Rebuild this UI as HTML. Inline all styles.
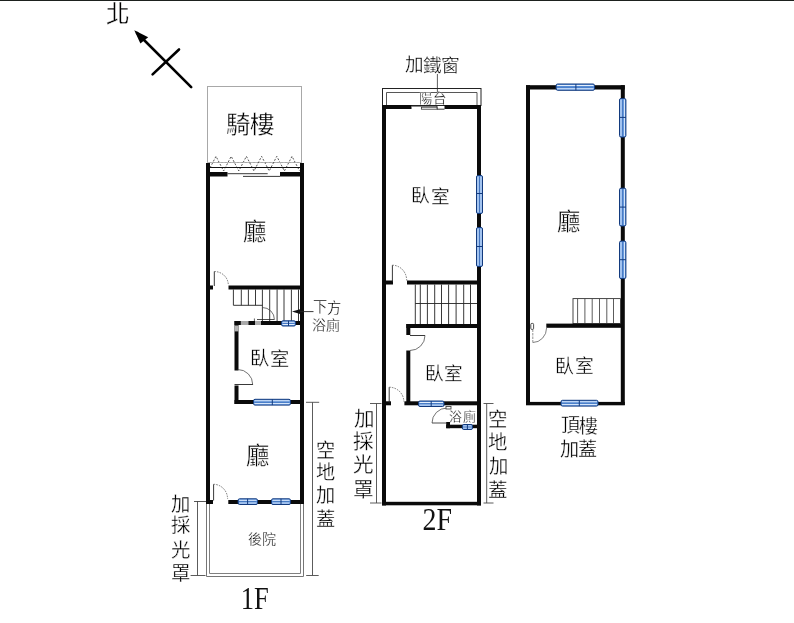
<!DOCTYPE html>
<html lang="zh-TW"><head><meta charset="utf-8"><title>Floor plan</title>
<style>
html,body{margin:0;padding:0;background:#fff;}
body{width:794px;height:623px;overflow:hidden;font-family:"Liberation Serif",serif;}
svg{display:block;}
svg text{font-family:"Liberation Serif",serif;}
svg text{filter:grayscale(1);}
</style></head><body>
<svg width="794" height="623" viewBox="0 0 794 623">
<rect width="794" height="623" fill="#fff"/>
<rect x="0" y="0" width="794" height="1" fill="#1d211e"/>
<line x1="137" y1="33" x2="191.2" y2="87.2" stroke="#000" stroke-width="2.6" stroke-linecap="round"/>
<polygon points="134.3,30.2 140.4,43.6 148.2,37.2" fill="#000"/>
<line x1="152.6" y1="74.4" x2="179" y2="49.5" stroke="#000" stroke-width="2.6" stroke-linecap="round"/>
<text x="106.33" y="22.31" font-size="23.72" fill="#000" stroke="#fff" stroke-width="0.3">北</text>
<rect x="207.5" y="86.5" width="94" height="76" fill="none" stroke="#a8a8a8" stroke-width="1"/>
<text x="225.61 249.98" y="132.78 132.66" font-size="24.43" fill="#000" stroke="#fff" stroke-width="0.3">騎樓</text>
<polyline points="208.4,171 216.0,156.3 223.6,171 231.2,156.3 238.8,171 246.4,156.3 254.0,171 261.6,156.3 269.2,171 276.8,156.3 284.4,171 292.0,156.3 299.6,171" fill="none" stroke="#444" stroke-width="0.9" stroke-dasharray="2,1.6"/>
<line x1="207" y1="162.5" x2="302" y2="162.5" stroke="#bbb" stroke-width="0.8" stroke-dasharray="2,2"/>
<line x1="210" y1="167.5" x2="300" y2="167.5" stroke="#111" stroke-width="1.2" />
<rect x="210" y="172" width="17.5" height="4.5" fill="#0a0a0a"/>
<rect x="280" y="172" width="20" height="4.5" fill="#0a0a0a"/>
<line x1="227.5" y1="173.7" x2="267.7" y2="173.7" stroke="#222" stroke-width="0.9" />
<line x1="243" y1="176.4" x2="280" y2="176.4" stroke="#222" stroke-width="0.9" />
<rect x="206" y="163" width="4" height="341" fill="#0a0a0a"/>
<rect x="300" y="163" width="4" height="341" fill="#0a0a0a"/>
<rect x="228.5" y="285.5" width="71.5" height="4.0" fill="#0a0a0a"/>
<rect x="210" y="285.5" width="3" height="4.0" fill="#0a0a0a"/>
<line x1="214.3" y1="271.5" x2="214.3" y2="286" stroke="#222" stroke-width="0.9" />
<path d="M214.3,271.5 A14.00,13.50 0 0 1 228.3,285" stroke="#555" stroke-width="0.8" fill="none" stroke-dasharray="1.6,1.1"/>
<text x="242.67" y="240.09" font-size="23.39" fill="#000" stroke="#fff" stroke-width="0.3">廳</text>
<line x1="233.4" y1="289.5" x2="233.4" y2="305.3" stroke="#222" stroke-width="0.9" />
<line x1="241.3" y1="289.5" x2="241.3" y2="305.3" stroke="#222" stroke-width="0.9" />
<line x1="248.4" y1="289.5" x2="248.4" y2="305.3" stroke="#222" stroke-width="0.9" />
<line x1="255.5" y1="289.5" x2="255.5" y2="305.3" stroke="#222" stroke-width="0.9" />
<line x1="262.4" y1="289.5" x2="262.4" y2="321" stroke="#222" stroke-width="0.9" />
<line x1="269.7" y1="289.5" x2="269.7" y2="321" stroke="#222" stroke-width="0.9" />
<line x1="277.1" y1="289.5" x2="277.1" y2="321" stroke="#222" stroke-width="0.9" />
<line x1="284" y1="289.5" x2="284" y2="321" stroke="#222" stroke-width="0.9" />
<line x1="291.4" y1="289.5" x2="291.4" y2="321" stroke="#222" stroke-width="0.9" />
<line x1="298.5" y1="289.5" x2="298.5" y2="321" stroke="#222" stroke-width="0.9" />
<line x1="233.4" y1="305.3" x2="262.4" y2="305.3" stroke="#222" stroke-width="0.9" />
<path d="M262.40,307.50 A12,12 0 0 1 274.40,319.50" stroke="#444" stroke-width="0.75" fill="none" />
<line x1="257" y1="319.5" x2="274.4" y2="319.5" stroke="#222" stroke-width="0.8" />
<line x1="294" y1="311.6" x2="313.5" y2="311.6" stroke="#222" stroke-width="0.9" />
<polygon points="292,311.6 300,309.3 300,313.9" fill="#111"/>
<text x="312.96 326.85" y="312.28 312.85" font-size="14.29" fill="#000" stroke="#fff" stroke-width="0.3">下方</text>
<text x="311.91 326.44" y="330.03 330.17" font-size="13.94" fill="#000" stroke="#fff" stroke-width="0.3">浴廁</text>
<rect x="234.5" y="321" width="65.5" height="4" fill="#0a0a0a"/>
<rect x="240.8" y="321" width="7.7" height="4" fill="#a9a9a9"/>
<rect x="255" y="321" width="6" height="4" fill="#b0b0b0"/>
<line x1="254.4" y1="318.5" x2="254.4" y2="321" stroke="#333" stroke-width="0.8" />
<rect x="281.5" y="320.8" width="14" height="5.2" rx="1.5" fill="#6399e2" stroke="#123a7e" stroke-width="1"/>
<line x1="282.5" y1="322.3" x2="294.5" y2="322.3" stroke="#f2f7ff" stroke-width="0.9" />
<line x1="282.5" y1="324.5" x2="294.5" y2="324.5" stroke="#f2f7ff" stroke-width="0.9" />
<line x1="282.5" y1="323.4" x2="294.5" y2="323.4" stroke="#3466b0" stroke-width="0.7" />
<line x1="288.5" y1="320.8" x2="288.5" y2="326.0" stroke="#123a7e" stroke-width="1" />
<rect x="234.5" y="321" width="4.0" height="49.5" fill="#0a0a0a"/>
<rect x="234.5" y="325.5" width="4.0" height="5.9" fill="#b4b4b4"/>
<rect x="234.5" y="385.5" width="4.0" height="18.5" fill="#0a0a0a"/>
<rect x="234.5" y="400" width="65.5" height="4" fill="#0a0a0a"/>
<line x1="234.5" y1="384.5" x2="253" y2="384.5" stroke="#222" stroke-width="0.9" />
<path d="M237.70,369.50 A15,15 0 0 1 252.70,384.50" stroke="#444" stroke-width="0.75" fill="none" />
<rect x="253.5" y="399.3" width="37" height="5.8" rx="1.5" fill="#6399e2" stroke="#123a7e" stroke-width="1"/>
<line x1="254.5" y1="400.8" x2="289.5" y2="400.8" stroke="#f2f7ff" stroke-width="0.9" />
<line x1="254.5" y1="403.6" x2="289.5" y2="403.6" stroke="#f2f7ff" stroke-width="0.9" />
<line x1="254.5" y1="402.20000000000005" x2="289.5" y2="402.20000000000005" stroke="#3466b0" stroke-width="0.7" />
<line x1="272.3" y1="399.3" x2="272.3" y2="405.1" stroke="#123a7e" stroke-width="1" />
<text x="250.08 269.56" y="365.08 365.57" font-size="19.28" fill="#000" stroke="#fff" stroke-width="0.3">臥室</text>
<text x="246.05" y="464.17" font-size="23.33" fill="#000" stroke="#fff" stroke-width="0.3">廳</text>
<rect x="228.3" y="500" width="71.7" height="4" fill="#0a0a0a"/>
<rect x="210" y="500" width="3" height="4" fill="#0a0a0a"/>
<line x1="213.6" y1="484.3" x2="213.6" y2="500.5" stroke="#222" stroke-width="0.9" />
<path d="M213.6,484.3 A14.00,14.70 0 0 1 227.6,499" stroke="#555" stroke-width="0.8" fill="none" stroke-dasharray="1.6,1.1"/>
<rect x="238.1" y="498.8" width="19.4" height="5.7" rx="1.5" fill="#6399e2" stroke="#123a7e" stroke-width="1"/>
<line x1="239.1" y1="500.3" x2="256.5" y2="500.3" stroke="#f2f7ff" stroke-width="0.9" />
<line x1="239.1" y1="503" x2="256.5" y2="503" stroke="#f2f7ff" stroke-width="0.9" />
<line x1="239.1" y1="501.65" x2="256.5" y2="501.65" stroke="#3466b0" stroke-width="0.7" />
<line x1="247.6" y1="498.8" x2="247.6" y2="504.5" stroke="#123a7e" stroke-width="1" />
<rect x="271.5" y="498.8" width="19" height="5.7" rx="1.5" fill="#6399e2" stroke="#123a7e" stroke-width="1"/>
<line x1="272.5" y1="500.3" x2="289.5" y2="500.3" stroke="#f2f7ff" stroke-width="0.9" />
<line x1="272.5" y1="503" x2="289.5" y2="503" stroke="#f2f7ff" stroke-width="0.9" />
<line x1="272.5" y1="501.65" x2="289.5" y2="501.65" stroke="#3466b0" stroke-width="0.7" />
<line x1="281" y1="498.8" x2="281" y2="504.5" stroke="#123a7e" stroke-width="1" />
<path d="M206.5,504 V576.5 H303.5 V504" fill="none" stroke="#767676" stroke-width="1"/>
<path d="M209.5,504 V573.5 H300.5 V504" fill="none" stroke="#808080" stroke-width="1"/>
<text x="248.05 261.63" y="544.33 544.40" font-size="14.04" fill="#000" stroke="#fff" stroke-width="0.3">後院</text>
<text x="254.7" y="609.3" font-size="32" text-anchor="middle" fill="#111" font-family="Liberation Serif, serif" transform="translate(254.7,0) scale(0.83,1) translate(-254.7,0)">1F</text>
<line x1="197.5" y1="501" x2="197.5" y2="575.5" stroke="#4a4a4a" stroke-width="0.9" />
<line x1="194" y1="501.5" x2="206" y2="501.5" stroke="#444" stroke-width="0.9" />
<line x1="190.6" y1="575.5" x2="205.5" y2="575.5" stroke="#4a4a4a" stroke-width="0.9" />
<text x="171.29 170.71 170.71 170.71" y="510.87 532.36 556.86 579.82" font-size="19.38" fill="#000" stroke="#fff" stroke-width="0.3">加採光罩</text>
<line x1="312.5" y1="402.3" x2="312.5" y2="575.5" stroke="#4a4a4a" stroke-width="0.9" />
<line x1="306" y1="402.3" x2="319.2" y2="402.3" stroke="#4a4a4a" stroke-width="0.9" />
<line x1="306.2" y1="575.5" x2="318.7" y2="575.5" stroke="#4a4a4a" stroke-width="0.9" />
<text x="315.80 315.90 316.47 315.90" y="456.94 479.19 502.40 526.39" font-size="19.21" fill="#000" stroke="#fff" stroke-width="0.3">空地加蓋</text>
<text x="404.57 422.62 441.12" y="71.41 71.50 71.60" font-size="18.57" fill="#000" stroke="#fff" stroke-width="0.3">加鐵窗</text>
<line x1="437.4" y1="74" x2="437.4" y2="92" stroke="#333" stroke-width="0.8" />
<rect x="382.5" y="88.5" width="98.5" height="17" fill="none" stroke="#222" stroke-width="1"/>
<path d="M386.5,105 V92.5 H477 V105" fill="none" stroke="#444" stroke-width="0.9"/>
<text x="418.91 432.65" y="102.95 103.22" font-size="13.44" fill="#000" stroke="#fff" stroke-width="0.3">陽台</text>
<rect x="382.5" y="105" width="29.0" height="4" fill="#0a0a0a"/>
<rect x="444.5" y="105" width="36.5" height="4" fill="#0a0a0a"/>
<path d="M411.5,106.1 H437 V109.2 H444.5" fill="none" stroke="#222" stroke-width="0.9"/>
<rect x="421.5" y="107.2" width="15.5" height="2" fill="#fff" stroke="#333" stroke-width="0.8"/>
<rect x="382" y="105" width="4" height="400.5" fill="#0a0a0a"/>
<rect x="477" y="105" width="4" height="400.5" fill="#0a0a0a"/>
<rect x="476.5" y="175.5" width="6" height="38" rx="1.5" fill="#6399e2" stroke="#123a7e" stroke-width="1"/>
<line x1="478" y1="176.5" x2="478" y2="212.5" stroke="#f2f7ff" stroke-width="0.9" />
<line x1="481" y1="176.5" x2="481" y2="212.5" stroke="#f2f7ff" stroke-width="0.9" />
<line x1="479.5" y1="176.5" x2="479.5" y2="212.5" stroke="#3466b0" stroke-width="0.7" />
<line x1="476.5" y1="193.5" x2="482.5" y2="193.5" stroke="#123a7e" stroke-width="1" />
<rect x="476.5" y="227.5" width="6" height="39" rx="1.5" fill="#6399e2" stroke="#123a7e" stroke-width="1"/>
<line x1="478" y1="228.5" x2="478" y2="265.5" stroke="#f2f7ff" stroke-width="0.9" />
<line x1="481" y1="228.5" x2="481" y2="265.5" stroke="#f2f7ff" stroke-width="0.9" />
<line x1="479.5" y1="228.5" x2="479.5" y2="265.5" stroke="#3466b0" stroke-width="0.7" />
<line x1="476.5" y1="246.5" x2="482.5" y2="246.5" stroke="#123a7e" stroke-width="1" />
<text x="411.21 430.66" y="202.21 202.68" font-size="18.67" fill="#000" stroke="#fff" stroke-width="0.3">臥室</text>
<rect x="386" y="280.5" width="7" height="4.0" fill="#0a0a0a"/>
<line x1="392.4" y1="265.2" x2="392.4" y2="282" stroke="#222" stroke-width="0.9" />
<path d="M392.4,265.2 A14.30,15.30 0 0 1 406.7,280.5" stroke="#555" stroke-width="0.8" fill="none" stroke-dasharray="1.6,1.1"/>
<rect x="407" y="280.5" width="70" height="4.0" fill="#0a0a0a"/>
<line x1="415.3" y1="284.5" x2="415.3" y2="324" stroke="#222" stroke-width="0.9" />
<line x1="420.3" y1="284.5" x2="420.3" y2="324" stroke="#222" stroke-width="0.9" />
<line x1="427.4" y1="284.5" x2="427.4" y2="324" stroke="#222" stroke-width="0.9" />
<line x1="434.7" y1="284.5" x2="434.7" y2="324" stroke="#222" stroke-width="0.9" />
<line x1="441.5" y1="284.5" x2="441.5" y2="324" stroke="#222" stroke-width="0.9" />
<line x1="448.6" y1="284.5" x2="448.6" y2="324" stroke="#222" stroke-width="0.9" />
<line x1="456.1" y1="284.5" x2="456.1" y2="324" stroke="#222" stroke-width="0.9" />
<line x1="463.7" y1="284.5" x2="463.7" y2="324" stroke="#222" stroke-width="0.9" />
<line x1="470.5" y1="284.5" x2="470.5" y2="324" stroke="#222" stroke-width="0.9" />
<line x1="415.3" y1="303.5" x2="477" y2="303.5" stroke="#222" stroke-width="0.9" />
<rect x="406.3" y="324" width="70.7" height="4" fill="#0a0a0a"/>
<rect x="406.3" y="324" width="4.0" height="11" fill="#0a0a0a"/>
<rect x="406.3" y="350.5" width="4.0" height="54.5" fill="#0a0a0a"/>
<line x1="410" y1="335.5" x2="425" y2="335.5" stroke="#222" stroke-width="0.9" />
<path d="M425.00,335.50 A15,15 0 0 1 410.00,350.50" stroke="#444" stroke-width="0.75" fill="none" />
<text x="424.91 444.06" y="379.52 379.99" font-size="18.57" fill="#000" stroke="#fff" stroke-width="0.3">臥室</text>
<rect x="404.4" y="401.3" width="72.6" height="4.0" fill="#0a0a0a"/>
<rect x="418.5" y="401.0" width="25.5" height="5.5" rx="1.5" fill="#6399e2" stroke="#123a7e" stroke-width="1"/>
<line x1="419.5" y1="402.5" x2="443.0" y2="402.5" stroke="#f2f7ff" stroke-width="0.9" />
<line x1="419.5" y1="405" x2="443.0" y2="405" stroke="#f2f7ff" stroke-width="0.9" />
<line x1="419.5" y1="403.75" x2="443.0" y2="403.75" stroke="#3466b0" stroke-width="0.7" />
<line x1="431.2" y1="401.0" x2="431.2" y2="406.5" stroke="#123a7e" stroke-width="1" />
<rect x="386" y="401.3" width="5" height="4.0" fill="#0a0a0a"/>
<line x1="389.2" y1="387.2" x2="389.2" y2="403" stroke="#222" stroke-width="0.9" />
<path d="M389.2,387.2 A14.60,14.30 0 0 1 403.8,401.5" stroke="#555" stroke-width="0.8" fill="none" stroke-dasharray="1.6,1.1"/>
<rect x="446.2" y="424.7" width="30.8" height="3.5" fill="#0a0a0a"/>
<rect x="446.2" y="422" width="3.8" height="6.2" fill="#0a0a0a"/>
<rect x="462.3" y="424.5" width="10.2" height="5" rx="1.5" fill="#6399e2" stroke="#123a7e" stroke-width="1"/>
<line x1="463.3" y1="426" x2="471.5" y2="426" stroke="#f2f7ff" stroke-width="0.9" />
<line x1="463.3" y1="428" x2="471.5" y2="428" stroke="#f2f7ff" stroke-width="0.9" />
<line x1="463.3" y1="427.0" x2="471.5" y2="427.0" stroke="#3466b0" stroke-width="0.7" />
<line x1="467.4" y1="424.5" x2="467.4" y2="429.5" stroke="#123a7e" stroke-width="1" />
<path d="M447.00,408.00 A15,15 0 0 0 432.00,423.00" stroke="#444" stroke-width="0.75" fill="none" />
<line x1="432" y1="423" x2="447" y2="423" stroke="#222" stroke-width="0.8" />
<rect x="446" y="406.5" width="5" height="2.5" fill="#fff" stroke="#333" stroke-width="0.8"/>
<text x="448.80 462.66" y="421.05 421.18" font-size="12.94" fill="#000" stroke="#fff" stroke-width="0.3">浴廁</text>
<rect x="382" y="501.8" width="99" height="3.5" fill="#0a0a0a"/>
<line x1="376.5" y1="403.5" x2="376.5" y2="503" stroke="#4a4a4a" stroke-width="0.9" />
<line x1="370" y1="403.5" x2="381.5" y2="403.5" stroke="#4a4a4a" stroke-width="0.9" />
<line x1="370" y1="503" x2="381.5" y2="503" stroke="#4a4a4a" stroke-width="0.9" />
<text x="353.87 353.25 353.25 353.25" y="425.77 448.93 471.98 496.97" font-size="20.60" fill="#000" stroke="#fff" stroke-width="0.3">加採光罩</text>
<line x1="486.7" y1="403.5" x2="486.7" y2="503" stroke="#4a4a4a" stroke-width="0.9" />
<line x1="483.5" y1="403.5" x2="493.5" y2="403.5" stroke="#4a4a4a" stroke-width="0.9" />
<line x1="483.5" y1="503" x2="493.5" y2="503" stroke="#4a4a4a" stroke-width="0.9" />
<text x="488.15 488.25 488.83 488.25" y="425.71 449.07 473.13 497.11" font-size="19.40" fill="#000" stroke="#fff" stroke-width="0.3">空地加蓋</text>
<text x="437.2" y="530.3" font-size="31" text-anchor="middle" fill="#111" font-family="Liberation Serif, serif" transform="translate(437.2,0) scale(0.9,1) translate(-437.2,0)">2F</text>
<rect x="526" y="85.2" width="4" height="319.8" fill="#0a0a0a"/>
<rect x="526" y="85.2" width="98.8" height="4.3" fill="#0a0a0a"/>
<rect x="620.8" y="85.2" width="4.0" height="319.8" fill="#0a0a0a"/>
<rect x="556.1" y="84.0" width="38.4" height="6.3" rx="1.5" fill="#6399e2" stroke="#123a7e" stroke-width="1"/>
<line x1="557.1" y1="85.5" x2="593.5" y2="85.5" stroke="#f2f7ff" stroke-width="0.9" />
<line x1="557.1" y1="88.8" x2="593.5" y2="88.8" stroke="#f2f7ff" stroke-width="0.9" />
<line x1="557.1" y1="87.15" x2="593.5" y2="87.15" stroke="#3466b0" stroke-width="0.7" />
<line x1="575.9" y1="84.0" x2="575.9" y2="90.3" stroke="#123a7e" stroke-width="1" />
<rect x="619.5" y="98.5" width="6.4" height="38.6" rx="1.5" fill="#6399e2" stroke="#123a7e" stroke-width="1"/>
<line x1="621" y1="99.5" x2="621" y2="136.1" stroke="#f2f7ff" stroke-width="0.9" />
<line x1="624.4" y1="99.5" x2="624.4" y2="136.1" stroke="#f2f7ff" stroke-width="0.9" />
<line x1="622.7" y1="99.5" x2="622.7" y2="136.1" stroke="#3466b0" stroke-width="0.7" />
<line x1="619.5" y1="117.4" x2="625.9" y2="117.4" stroke="#123a7e" stroke-width="1" />
<rect x="619.5" y="188.2" width="6.4" height="37.8" rx="1.5" fill="#6399e2" stroke="#123a7e" stroke-width="1"/>
<line x1="621" y1="189.2" x2="621" y2="225.0" stroke="#f2f7ff" stroke-width="0.9" />
<line x1="624.4" y1="189.2" x2="624.4" y2="225.0" stroke="#f2f7ff" stroke-width="0.9" />
<line x1="622.7" y1="189.2" x2="622.7" y2="225.0" stroke="#3466b0" stroke-width="0.7" />
<line x1="619.5" y1="207.1" x2="625.9" y2="207.1" stroke="#123a7e" stroke-width="1" />
<rect x="619.5" y="241.1" width="6.4" height="37.5" rx="1.5" fill="#6399e2" stroke="#123a7e" stroke-width="1"/>
<line x1="621" y1="242.1" x2="621" y2="277.6" stroke="#f2f7ff" stroke-width="0.9" />
<line x1="624.4" y1="242.1" x2="624.4" y2="277.6" stroke="#f2f7ff" stroke-width="0.9" />
<line x1="622.7" y1="242.1" x2="622.7" y2="277.6" stroke="#3466b0" stroke-width="0.7" />
<line x1="619.5" y1="259.7" x2="625.9" y2="259.7" stroke="#123a7e" stroke-width="1" />
<text x="557.15" y="230.27" font-size="23.33" fill="#000" stroke="#fff" stroke-width="0.3">廳</text>
<rect x="573" y="298.6" width="47.5" height="25" fill="none" stroke="#333" stroke-width="0.9"/>
<line x1="577.6" y1="298.6" x2="577.6" y2="323.6" stroke="#4a4a4a" stroke-width="0.9" />
<line x1="584.9" y1="298.6" x2="584.9" y2="323.6" stroke="#4a4a4a" stroke-width="0.9" />
<line x1="592.2" y1="298.6" x2="592.2" y2="323.6" stroke="#4a4a4a" stroke-width="0.9" />
<line x1="599.5" y1="298.6" x2="599.5" y2="323.6" stroke="#4a4a4a" stroke-width="0.9" />
<line x1="606.8" y1="298.6" x2="606.8" y2="323.6" stroke="#4a4a4a" stroke-width="0.9" />
<line x1="613.5" y1="298.6" x2="613.5" y2="323.6" stroke="#4a4a4a" stroke-width="0.9" />
<rect x="546.3" y="323.6" width="74.7" height="4.2" fill="#0a0a0a"/>
<line x1="532.8" y1="329.5" x2="532.8" y2="342.5" stroke="#777" stroke-width="0.8" stroke-dasharray="2.5,1"/>
<path d="M532.8,342.5 A13.8,14.7 0 0 0 546.6,327.8" stroke="#555" stroke-width="0.75" fill="none" />
<rect x="530.8" y="323.4" width="2.8" height="6" rx="1" fill="#fff" stroke="#222" stroke-width="0.8"/>
<rect x="526" y="401.9" width="98.8" height="3.4" fill="#0a0a0a"/>
<rect x="561.0" y="400.3" width="37.0" height="5.8" rx="1.5" fill="#6399e2" stroke="#123a7e" stroke-width="1"/>
<line x1="562.0" y1="401.8" x2="597.0" y2="401.8" stroke="#f2f7ff" stroke-width="0.9" />
<line x1="562.0" y1="404.6" x2="597.0" y2="404.6" stroke="#f2f7ff" stroke-width="0.9" />
<line x1="562.0" y1="403.20000000000005" x2="597.0" y2="403.20000000000005" stroke="#3466b0" stroke-width="0.7" />
<line x1="579.3" y1="400.3" x2="579.3" y2="406.1" stroke="#123a7e" stroke-width="1" />
<text x="555.21 574.96" y="372.80 373.27" font-size="18.77" fill="#000" stroke="#fff" stroke-width="0.3">臥室</text>
<text x="560.61 579.15" y="432.17 432.55" font-size="18.94" fill="#000" stroke="#fff" stroke-width="0.3">頂樓</text>
<text x="560.00 577.98" y="455.56 455.94" font-size="19.10" fill="#000" stroke="#fff" stroke-width="0.3">加蓋</text>
</svg>
</body></html>
